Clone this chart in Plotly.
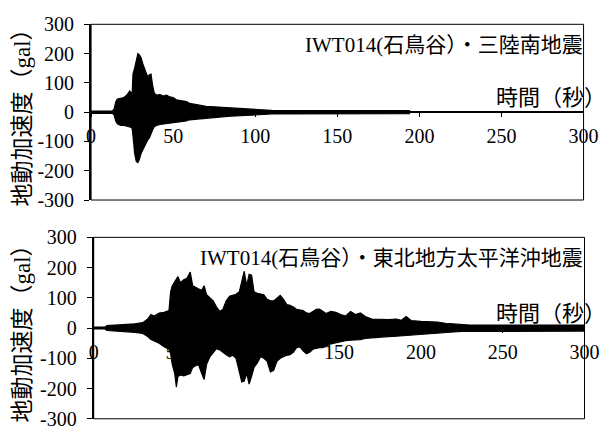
import plotly.graph_objects as go

# ---------------- data (envelopes) ----------------
# Panel 1: IWT014(石鳥谷)・三陸南地震
t_sanriku = [0, 13, 14, 15, 16, 18, 20, 22, 23.5, 25, 25.5, 26.5, 27.5, 28.5, 29.5, 30.5,
             31.5, 32.5, 33.5, 34.5, 35.5, 36.5, 37.5, 38.5, 40, 42, 44, 46, 48, 50, 52,
             55, 58, 60, 63, 66, 70, 75, 80, 85, 90, 95, 100, 105, 110, 120, 194]
up_sanriku = [4, 4, 10, 35, 45, 48, 50, 60, 72, 62, 130, 150, 175, 200, 195, 185,
              165, 150, 135, 120, 128, 130, 90, 65, 58, 60, 55, 58, 52, 50, 42,
              38, 36, 30, 28, 24, 20, 18, 18, 15, 12, 10, 10, 8, 6, 5, 5]
lo_sanriku = [-4, -4, -10, -30, -40, -45, -45, -48, -50, -55, -80, -140, -168, -172, -160, -140,
              -130, -115, -105, -95, -88, -75, -60, -50, -45, -42, -40, -40, -38, -36, -34,
              -32, -30, -26, -25, -22, -20, -18, -16, -14, -12, -10, -9, -8, -6, -5, -5]

# Panel 2: IWT014(石鳥谷)・東北地方太平洋沖地震
t_tohoku = [0, 7, 8, 15, 20, 25, 30, 33, 35, 37, 40, 43, 46, 47, 48, 49.5, 50.5, 51.5, 53,
            55, 57, 59, 60.5, 62, 64, 66, 67.5, 69, 71, 73, 75, 77, 79, 81, 83, 85, 87, 89,
            90.5, 92, 93.5, 95, 96.5, 98, 100, 102, 104, 106, 108, 110, 112, 114, 116, 118,
            120, 122, 124, 126, 128, 130, 132, 134, 136, 138, 140, 142, 145, 148, 151, 154,
            157, 160, 163, 166, 170, 175, 180, 185, 188, 191, 194, 200, 205, 210, 215, 220,
            225, 230, 240, 260, 280, 300]
up_tohoku = [3, 3, 8, 10, 12, 14, 18, 30, 45, 40, 50, 52, 58, 120, 140, 155, 165, 170, 150,
             160, 165, 185, 140, 135, 130, 125, 140, 110, 100, 90, 70, 55, 62, 90, 105, 108, 112, 120,
             150, 188, 140, 178, 175, 120, 115, 112, 110, 95, 90, 90, 100, 108, 95, 78,
             75, 70, 62, 60, 58, 50, 48, 55, 62, 63, 55, 48, 55, 52, 45, 40,
             55, 45, 50, 38, 30, 28, 28, 30, 26, 38, 25, 22, 22, 20, 16, 14,
             12, 10, 10, 10, 10, 10]
lo_tohoku = [-3, -3, -8, -10, -12, -14, -18, -28, -38, -42, -50, -62, -70, -85, -120, -150, -195, -160, -155,
             -158, -155, -150, -130, -125, -120, -150, -170, -120, -95, -80, -68, -72, -80, -88, -95, -90, -100, -140,
             -178, -175, -150, -185, -160, -130, -115, -95, -100, -110, -145, -140, -110, -100, -95, -90,
             -88, -80, -65, -62, -75, -85, -80, -70, -68, -65, -65, -60, -52, -48, -45, -42,
             -40, -38, -38, -34, -32, -30, -28, -27, -26, -26, -24, -22, -21, -18, -15, -13,
             -11, -10, -10, -10, -10, -10]

titles = ["IWT014(石鳥谷）・三陸南地震", "IWT014(石鳥谷）・東北地方太平洋沖地震"]
x_label = "時間（秒）"
y_label = "地動加速度（gal）"
x_ticks = [0, 50, 100, 150, 200, 250, 300]
y_ticks = [-300, -200, -100, 0, 100, 200, 300]

FONT = "Liberation Serif, Noto Sans CJK JP, serif"
CJK = "Liberation Serif, Noto Sans CJK JP"

W, H = 615, 439
# panel geometry in paper fractions
panels = [
    dict(xd=[89 / W, 598 / W], yd=[1 - 199 / H, 1 - 14 / H]),
    dict(xd=[91.7 / W, 599 / W], yd=[1 - 429.3 / H, 1 - 238.3 / H]),
]

fig = go.Figure()
series = [(t_sanriku, up_sanriku, lo_sanriku), (t_tohoku, up_tohoku, lo_tohoku)]
for i, (t, up, lo) in enumerate(series):
    xs = list(t) + list(reversed(t))
    ys = list(up) + list(reversed(lo))
    sfx = "" if i == 0 else str(i + 1)
    fig.add_trace(go.Scatter(x=xs, y=ys, mode="lines", fill="toself",
                             fillcolor="black", line=dict(color="black", width=1.2),
                             xaxis="x" + sfx, yaxis="y" + sfx, showlegend=False,
                             hoverinfo="skip"))

layout = dict(width=W, height=H, margin=dict(l=0, r=0, t=0, b=0),
              paper_bgcolor="white", plot_bgcolor="white",
              font=dict(family=FONT, size=20, color="black"),
              showlegend=False)
annotations = []
shapes = []
for i, p in enumerate(panels):
    sfx = "" if i == 0 else str(i + 1)
    ymid = (p["yd"][0] + p["yd"][1]) / 2
    layout["xaxis" + sfx] = dict(domain=p["xd"], range=[0, 300], tickvals=x_ticks,
                                 ticktext=[str(v) for v in x_ticks],
                                 anchor="free", position=ymid, showline=True,
                                 linecolor="black", linewidth=1.5, ticks="outside",
                                 ticklen=4, tickcolor="black", showgrid=False,
                                 zeroline=False, ticklabelstandoff=2,
                                 tickfont=dict(family=FONT, size=20))
    layout["yaxis" + sfx] = dict(domain=p["yd"], range=[-300, 300], tickvals=y_ticks,
                                 ticktext=[str(v) for v in y_ticks],
                                 anchor="x" + sfx, showline=True, linecolor="black",
                                 linewidth=2, ticks="outside", ticklen=5,
                                 tickcolor="black", showgrid=False, zeroline=False,
                                 ticklabelstandoff=6,
                                 tickfont=dict(family=FONT, size=20))
    shapes.append(dict(type="rect", xref="x" + sfx + " domain", yref="y" + sfx + " domain",
                       x0=0, x1=1, y0=0, y1=1, line=dict(color="black", width=1),
                       layer="above"))
    # chart title
    annotations.append(dict(text=titles[i], xref="paper", yref="paper",
                            x=600 / W, y=p["yd"][1] - 22 / H, xanchor="right",
                            yanchor="middle", showarrow=False,
                            font=dict(family=CJK, size=21)))
    # x label
    annotations.append(dict(text=x_label, xref="paper", yref="paper",
                            x=505 / W, y=ymid + 15 / H, xanchor="left",
                            yanchor="middle", showarrow=False,
                            font=dict(family=CJK, size=22)))
    # y label
    annotations.append(dict(text=y_label, xref="paper", yref="paper",
                            x=18 / W, y=ymid, xanchor="center", yanchor="middle",
                            textangle=-90, showarrow=False,
                            font=dict(family=CJK, size=23)))

layout["annotations"] = annotations
layout["shapes"] = shapes
fig.update_layout(**layout)
fig.write_html("out.html")
